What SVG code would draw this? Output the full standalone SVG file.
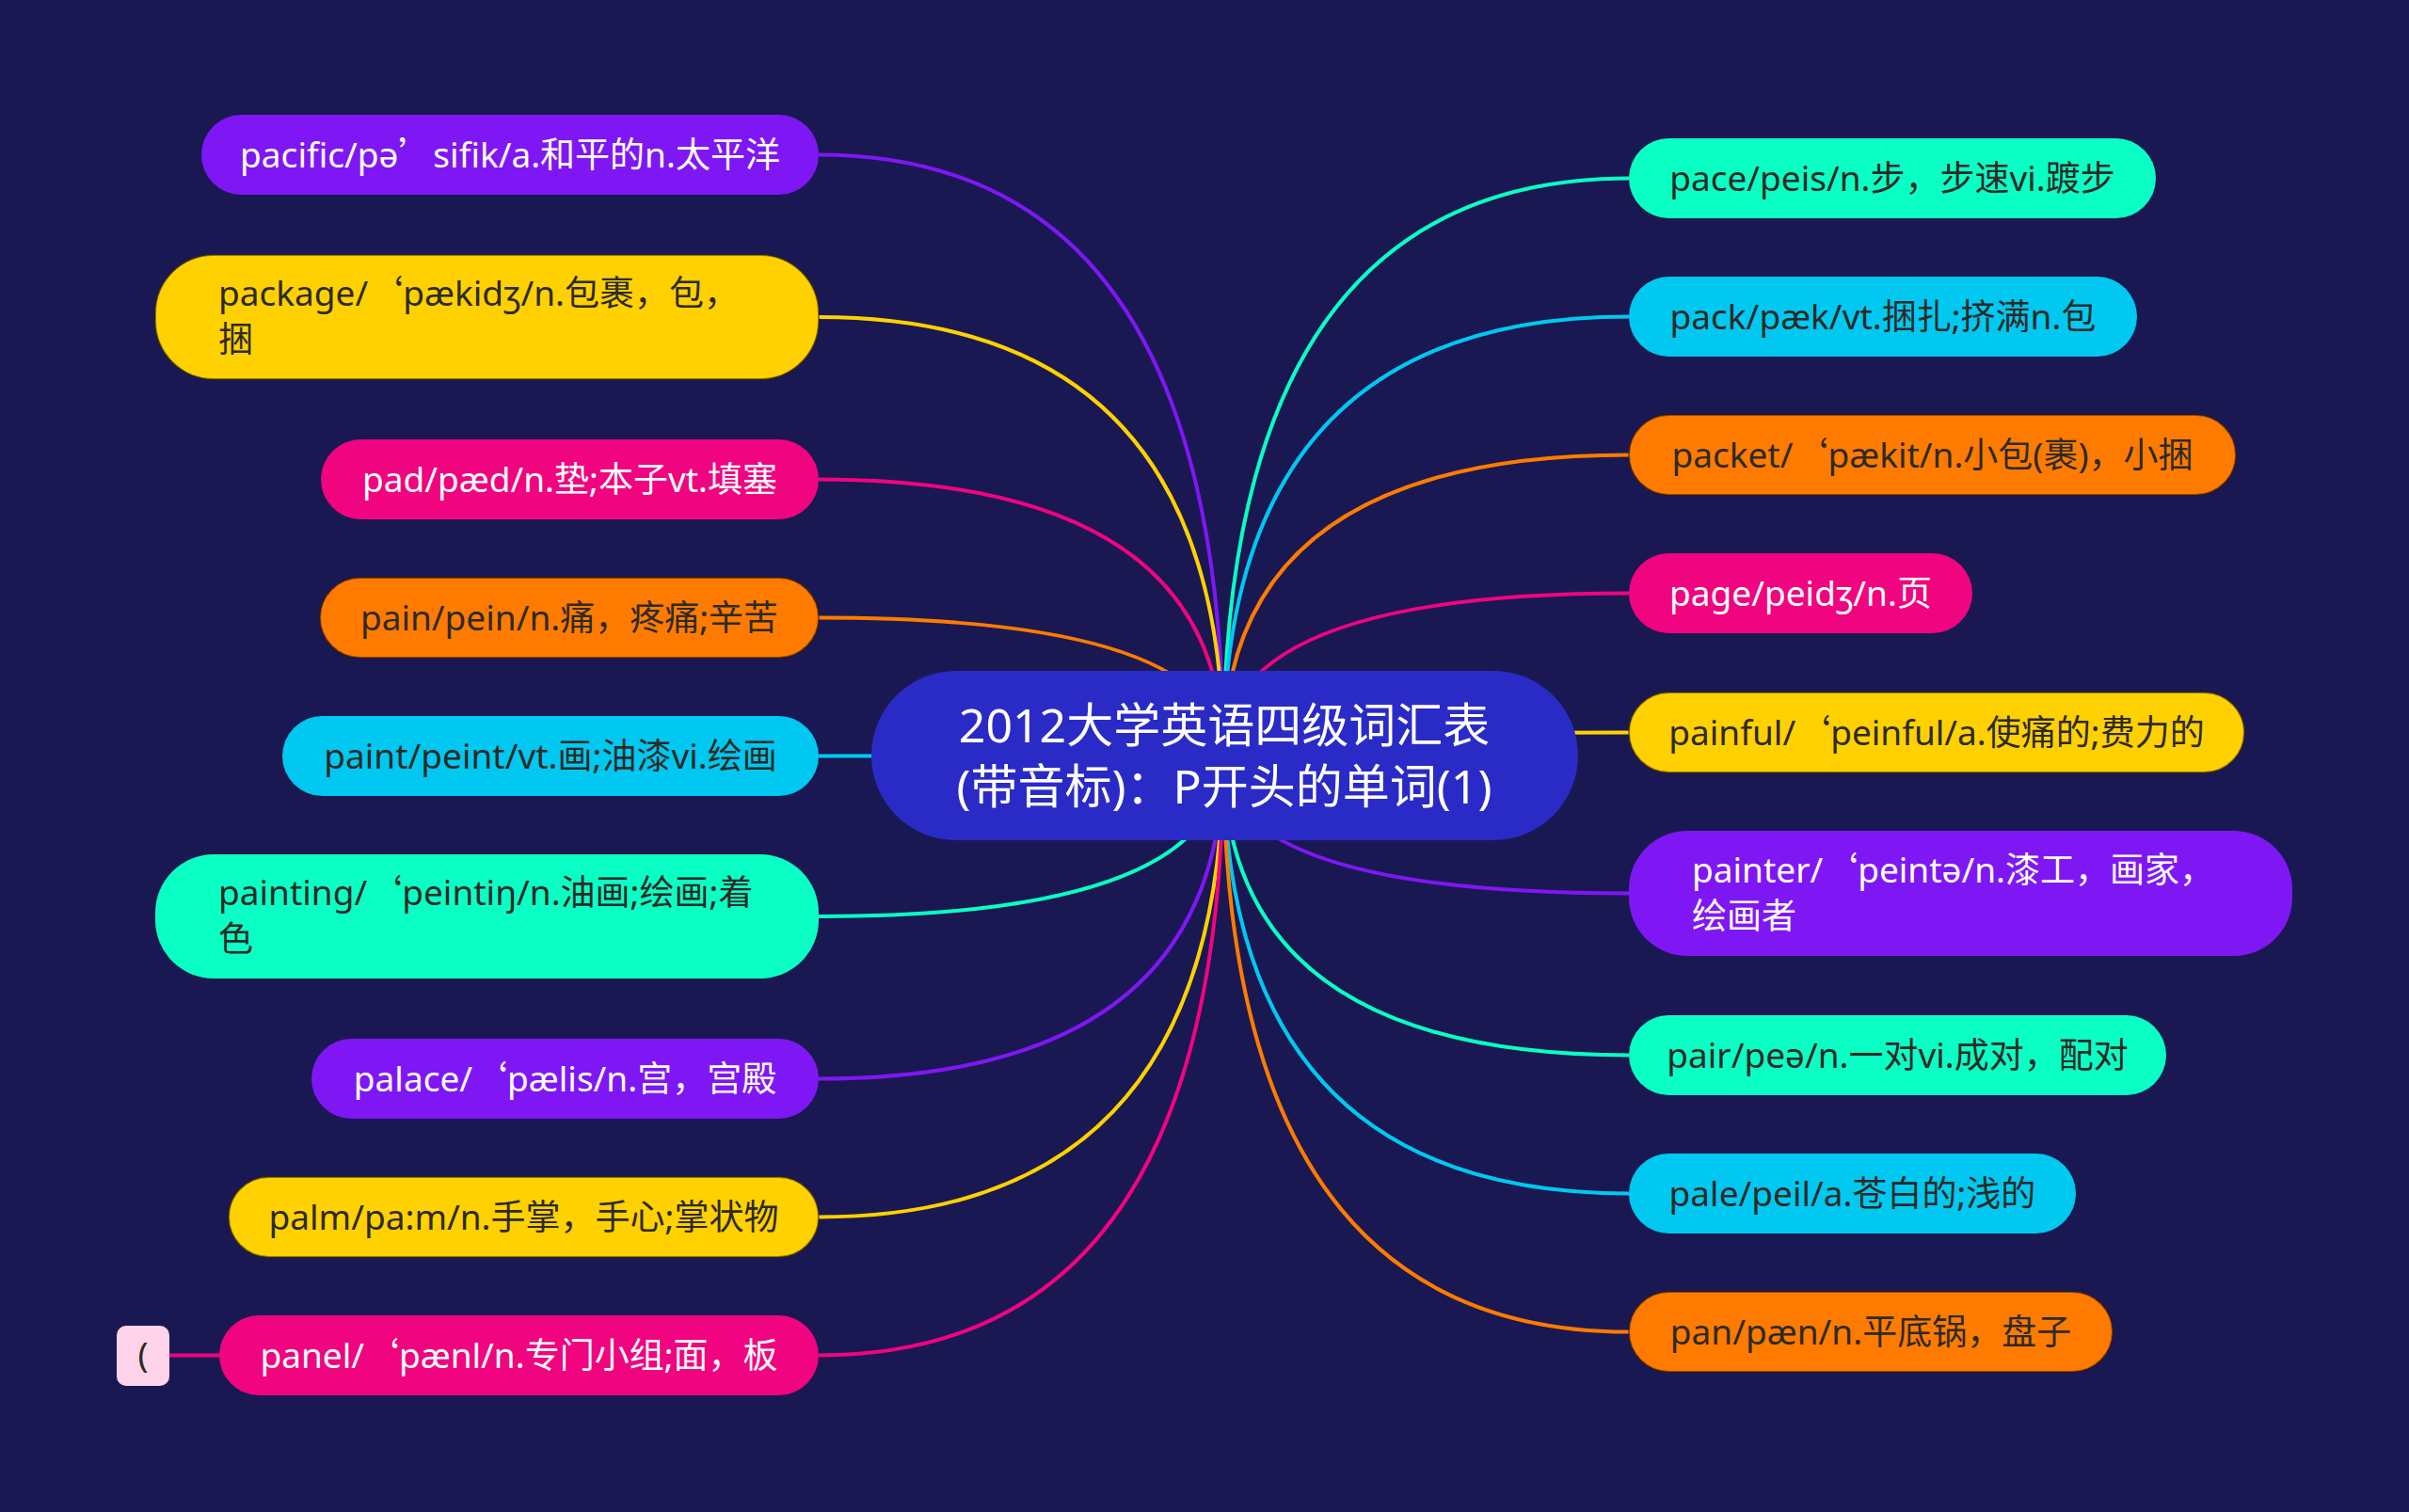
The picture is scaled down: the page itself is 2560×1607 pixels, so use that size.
<svg xmlns="http://www.w3.org/2000/svg" width="2560" height="1607" viewBox="0 0 2560 1607">
<style>
text{font-family:"Noto Sans","Noto Sans CJK SC",sans-serif;font-size:37px}
.q{font-family:"Noto Sans CJK SC",sans-serif}
.w{fill:#ffffff}.d{fill:#2d2a26}
.purple{fill:#7f17f4}.yellow{fill:#ffd100;stroke:#3a3000;stroke-opacity:.55;stroke-width:2}
.pink{fill:#f0047f}.orange{fill:#ff7b00;stroke:#3a1a00;stroke-opacity:.55;stroke-width:2}
.cyan{fill:#00c8f0}.mint{fill:#0affc4}
.c{fill:none;stroke-width:4}
.cp{stroke:#7f17f4}.cy{stroke:#ffd100}.ck{stroke:#f0047f}.co{stroke:#ff7b00}.cc{stroke:#00c8f0}.cm{stroke:#0affc4}
.m{text-anchor:middle}
</style>
<rect width="2560" height="1607" fill="#1a1852"/>
<g id="connectors">
<path class="c cp" d="M870,164.5 Q1300,164.5 1300,803"/>
<path class="c cy" d="M870,337 Q1300,337 1300,803"/>
<path class="c ck" d="M870,509.5 Q1300,509.5 1300,803"/>
<path class="c co" d="M870,656.5 Q1300,656.5 1300,803"/>
<path class="c cc" d="M870,803.5 Q1300,803.5 1300,803"/>
<path class="c cm" d="M870,974 Q1300,974 1300,803"/>
<path class="c cp" d="M870,1146.5 Q1300,1146.5 1300,803"/>
<path class="c cy" d="M870,1293.5 Q1300,1293.5 1300,803"/>
<path class="c ck" d="M870,1440.5 Q1300,1440.5 1300,803"/>
<path class="c ck" d="M180,1440.5 L233,1440.5"/>
<path class="c cm" d="M1731,189.5 Q1300,189.5 1300,803"/>
<path class="c cc" d="M1731,336.5 Q1300,336.5 1300,803"/>
<path class="c co" d="M1731,483.5 Q1300,483.5 1300,803"/>
<path class="c ck" d="M1731,630.5 Q1300,630.5 1300,803"/>
<path class="c cy" d="M1731,778.5 Q1300,778.5 1300,803"/>
<path class="c cp" d="M1731,949.5 Q1300,949.5 1300,803"/>
<path class="c cm" d="M1731,1121.5 Q1300,1121.5 1300,803"/>
<path class="c cc" d="M1731,1268.5 Q1300,1268.5 1300,803"/>
<path class="c co" d="M1731,1415.5 Q1300,1415.5 1300,803"/>
</g>
<g id="center">
<rect x="926" y="713" width="751" height="180" rx="90" fill="#2a2bc6"/>
<text x="1301" y="789" class="w m" style="font-size:50px">2012大学英语四级词汇表</text>
<text x="1301" y="854" class="w m" style="font-size:50px">(带音标)：P开头的单词(1)</text>
</g>
<g id="n-pacific"><rect class="purple" x="214" y="122" width="656" height="85" rx="42.5"/><text class="w m" x="542" y="177.5">pacific/pə<tspan class="q">’</tspan>sifik/a.和平的n.太平洋</text></g>
<g id="n-package"><rect class="yellow" x="165" y="271" width="705" height="132" rx="62"/><text class="d" x="232" y="325">package/<tspan class="q">‘</tspan>pækidʒ/n.包裹，包，</text><text class="d" x="232" y="374">捆</text></g>
<g id="n-pad"><rect class="pink" x="341" y="467" width="529" height="85" rx="42.5"/><text class="w m" x="605.5" y="522.5">pad/pæd/n.垫;本子vt.填塞</text></g>
<g id="n-pain"><rect class="orange" x="340" y="614" width="530" height="85" rx="42.5"/><text class="d m" x="605" y="669.5">pain/pein/n.痛，疼痛;辛苦</text></g>
<g id="n-paint"><rect class="cyan" x="300" y="761" width="570" height="85" rx="42.5"/><text class="d m" x="585" y="816.5">paint/peint/vt.画;油漆vi.绘画</text></g>
<g id="n-painting"><rect class="mint" x="165" y="908" width="705" height="132" rx="62"/><text class="d" x="232" y="962">painting/<tspan class="q">‘</tspan>peintiŋ/n.油画;绘画;着</text><text class="d" x="232" y="1011">色</text></g>
<g id="n-palace"><rect class="purple" x="331" y="1104" width="539" height="85" rx="42.5"/><text class="w m" x="600.5" y="1159.5">palace/<tspan class="q">‘</tspan>pælis/n.宫，宫殿</text></g>
<g id="n-palm"><rect class="yellow" x="243" y="1251" width="627" height="85" rx="42.5"/><text class="d m" x="556.5" y="1306.5">palm/pa:m/n.手掌，手心;掌状物</text></g>
<g id="n-panel"><rect class="pink" x="233" y="1398" width="637" height="85" rx="42.5"/><text class="w m" x="551.5" y="1453.5">panel/<tspan class="q">‘</tspan>pænl/n.专门小组;面，板</text></g>
<g id="n-paren"><rect x="124" y="1409" width="56" height="64" rx="10" fill="#ffd3ea"/><text class="d m" x="152" y="1453">(</text></g>
<g id="n-pace"><rect class="mint" x="1731" y="147" width="560" height="85" rx="42.5"/><text class="d m" x="2011" y="202.5">pace/peis/n.步，步速vi.踱步</text></g>
<g id="n-pack"><rect class="cyan" x="1731" y="294" width="540" height="85" rx="42.5"/><text class="d m" x="2001" y="349.5">pack/pæk/vt.捆扎;挤满n.包</text></g>
<g id="n-packet"><rect class="orange" x="1731" y="441" width="645" height="85" rx="42.5"/><text class="d m" x="2053.5" y="496.5">packet/<tspan class="q">‘</tspan>pækit/n.小包(裹)，小捆</text></g>
<g id="n-page"><rect class="pink" x="1731" y="588" width="365" height="85" rx="42.5"/><text class="w m" x="1913.5" y="643.5">page/peidʒ/n.页</text></g>
<g id="n-painful"><rect class="yellow" x="1731" y="736" width="654" height="85" rx="42.5"/><text class="d m" x="2058" y="791.5">painful/<tspan class="q">‘</tspan>peinful/a.使痛的;费力的</text></g>
<g id="n-painter"><rect class="purple" x="1731" y="883" width="705" height="133" rx="62"/><text class="w" x="1798" y="938">painter/<tspan class="q">‘</tspan>peintə/n.漆工，画家，</text><text class="w" x="1798" y="987">绘画者</text></g>
<g id="n-pair"><rect class="mint" x="1731" y="1079" width="571" height="85" rx="42.5"/><text class="d m" x="2016.5" y="1134.5">pair/peə/n.一对vi.成对，配对</text></g>
<g id="n-pale"><rect class="cyan" x="1731" y="1226" width="475" height="85" rx="42.5"/><text class="d m" x="1968.5" y="1281.5">pale/peil/a.苍白的;浅的</text></g>
<g id="n-pan"><rect class="orange" x="1731" y="1373" width="514" height="85" rx="42.5"/><text class="d m" x="1988" y="1428.5">pan/pæn/n.平底锅，盘子</text></g>
</svg>
